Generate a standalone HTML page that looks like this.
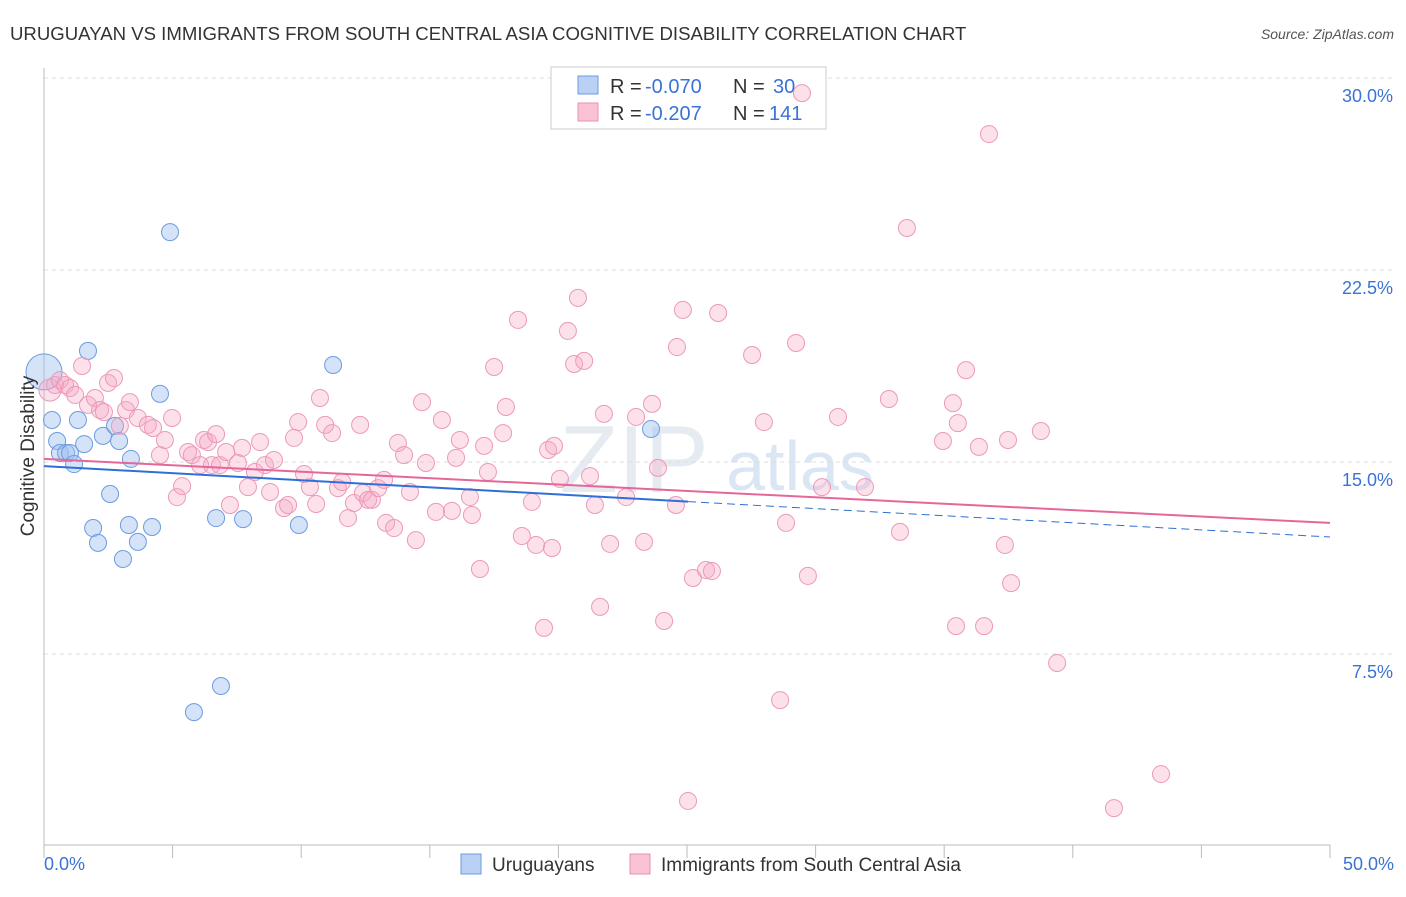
<!DOCTYPE html>
<html><head><meta charset="utf-8"><style>
body{margin:0;background:#fff;font-family:"Liberation Sans",sans-serif}
svg text{font-family:"Liberation Sans",sans-serif}
</style></head><body>
<svg id="c" width="1406" height="892" xmlns="http://www.w3.org/2000/svg">
<text x="10" y="40" font-size="18.6" fill="#333">URUGUAYAN VS IMMIGRANTS FROM SOUTH CENTRAL ASIA COGNITIVE DISABILITY CORRELATION CHART</text>
<text x="1394" y="39" font-size="14" fill="#555" font-style="italic" text-anchor="end">Source: ZipAtlas.com</text>
<text x="634" y="492" font-size="96" fill="#e6ebf2" font-family="Liberation Serif" text-anchor="middle">ZIP</text>
<text x="800" y="490" font-size="70" fill="#dbe6f5" text-anchor="middle">atlas</text>
<g id="grid"></g><g id="axes"></g>
<g>
<rect x="551" y="67" width="275" height="62" fill="#fff" stroke="#ccc"/>
<rect x="578" y="76" width="20" height="18" fill="#b9d1f4" stroke="#6d9be0"/>
<rect x="578" y="103" width="20" height="18" fill="#f9c3d5" stroke="#e890b0"/>
<text x="610" y="93" font-size="20" fill="#333">R =</text><text x="645" y="93" font-size="20" fill="#3b73d4">-0.070</text>
<text x="733" y="93" font-size="20" fill="#333">N =</text><text x="773" y="93" font-size="20" fill="#3b73d4">30</text>
<text x="610" y="120" font-size="20" fill="#333">R =</text><text x="645" y="120" font-size="20" fill="#3b73d4">-0.207</text>
<text x="733" y="120" font-size="20" fill="#333">N =</text><text x="769" y="120" font-size="20" fill="#3b73d4">141</text>
</g>
<g id="pts"></g><g id="trend"></g>
<text transform="translate(34,456) rotate(-90)" font-size="19" fill="#333" text-anchor="middle">Cognitive Disability</text>
<text x="44" y="870" font-size="18" fill="#3b73d4">0.0%</text>
<text x="1394" y="870" font-size="18" fill="#3b73d4" text-anchor="end">50.0%</text>
<g>
<rect x="461" y="854" width="20" height="20" fill="#b9d1f4" stroke="#6d9be0"/>
<text x="492" y="871" font-size="19" fill="#333">Uruguayans</text>
<rect x="630" y="854" width="20" height="20" fill="#f9c3d5" stroke="#e890b0"/>
<text x="661" y="871" font-size="19" fill="#333">Immigrants from South Central Asia</text>
</g>
</svg>
<script>
const yTicks=[7.5,15,22.5,30];
const blueX=[0,0.31,0.51,0.62,0.86,1.01,1.17,1.32,1.56,1.71,2.29,2.57,2.76,2.92,1.91,2.10,3.30,3.65,3.07,3.38,4.20,4.51,4.90,5.83,6.69,6.88,7.74,9.91,11.24,23.60];
const blueY=[18.52,16.64,15.82,15.35,15.35,15.35,14.92,16.64,15.70,19.34,16.02,13.75,16.41,15.82,12.42,11.84,12.54,11.88,11.21,15.12,12.46,17.66,23.98,5.23,12.81,6.25,12.77,12.54,18.79,16.29];
const pinkX=[0.23,0.43,0.62,0.82,1.01,1.21,1.48,1.71,1.98,2.18,2.33,2.49,2.72,2.95,3.19,3.34,3.65,4.04,4.24,4.51,4.70,4.98,5.17,5.37,5.60,5.75,6.07,6.22,6.38,6.53,6.69,6.84,7.08,7.23,7.54,7.70,7.93,8.20,8.40,8.59,8.79,8.94,9.33,9.49,9.72,9.88,10.11,10.34,10.58,10.73,10.93,11.20,11.43,11.59,11.82,12.05,12.29,12.40,12.60,12.75,12.99,13.22,13.30,13.61,13.76,14.00,14.23,14.46,14.70,14.85,15.24,15.47,15.86,16.02,16.17,16.56,16.64,16.95,17.11,17.26,17.50,17.85,17.96,18.43,18.58,18.97,19.13,19.44,19.60,19.75,19.83,20.06,20.37,20.61,20.76,21.00,21.23,21.42,21.62,21.77,22.01,22.63,23.02,23.33,23.64,23.87,24.11,24.57,24.61,24.84,25.04,25.23,25.74,25.97,26.21,27.53,27.99,28.62,28.85,29.24,29.47,29.70,30.25,30.87,31.92,32.85,33.28,33.55,34.95,35.34,35.46,35.53,35.85,36.35,36.55,36.74,37.36,37.48,37.60,38.76,39.39,41.60,43.43];
const pinkY=[17.81,18.01,18.20,18.01,17.89,17.62,18.75,17.23,17.50,17.03,16.95,18.09,18.28,16.41,17.03,17.34,16.72,16.45,16.33,15.27,15.86,16.72,13.63,14.06,15.39,15.27,14.88,15.86,15.78,14.88,16.09,14.88,15.39,13.32,14.96,15.55,14.02,14.61,15.78,14.88,13.83,15.08,13.20,13.32,15.94,16.56,14.53,14.02,13.36,17.50,16.45,16.13,13.98,14.22,12.81,13.40,16.45,13.79,13.52,13.52,13.98,14.30,12.62,12.42,15.74,15.27,13.83,11.95,17.34,14.96,13.05,16.64,13.09,15.16,15.86,13.63,12.93,10.82,15.63,14.61,18.71,16.13,17.15,20.55,12.11,13.44,11.76,8.52,15.47,11.64,15.63,14.34,20.12,18.83,21.41,18.95,14.45,13.32,9.34,16.88,11.80,13.63,16.76,11.88,17.27,14.77,8.79,13.32,19.49,20.94,1.76,10.47,10.78,10.74,20.82,19.18,16.56,5.70,12.62,19.65,29.41,10.55,14.02,16.76,14.02,17.46,12.27,24.14,15.82,17.30,8.59,16.52,18.59,15.59,8.59,27.81,11.76,15.86,10.27,16.21,7.15,1.48,2.81];
const blueTrend=[14.84,12.07];
const pinkTrend=[15.12,12.62];
const NS='http://www.w3.org/2000/svg';
const X=v=>44+v/50*1286;
const Y=v=>846-v/7.5*192;
function mk(t,a,p){const e=document.createElementNS(NS,t);for(const k in a)e.setAttribute(k,a[k]);document.getElementById(p).appendChild(e);return e;}
yTicks.forEach(t=>{
 const l=mk('line',{x1:44,x2:1394,y1:Y(t),y2:Y(t),stroke:'#ddd','stroke-dasharray':'4,4'},'grid');
 
 
 const tx=mk('text',{x:1393,y:Y(t)+24,'font-size':18,fill:'#3b73d4','text-anchor':'end'},'grid');
 tx.textContent=t.toFixed(1)+'%';
 
 
});
mk('line',{x1:44,x2:44,y1:68,y2:845,stroke:'#bbb'},'axes');
mk('line',{x1:44,x2:1330,y1:845,y2:845,stroke:'#bbb'},'axes');
for(let i=0;i<=10;i++){const tk=mk('line',{x1:X(i*5),x2:X(i*5),y1:845,y2:858,stroke:'#bbb'},'axes');
 
 }
blueX.forEach((v,i)=>{
 const c=mk('circle',{cx:X(v),cy:Y(blueY[i]),r:i===0?18:8.5,fill:'rgba(160,192,240,0.45)',stroke:'#6d9be0','stroke-width':1},'pts');
 
 
});
pinkX.forEach((v,i)=>{
 const c=mk('circle',{cx:X(v),cy:Y(pinkY[i]),r:i===0?11:8.5,fill:'rgba(246,170,198,0.35)',stroke:'#ec99b8','stroke-width':1},'pts');
 
 
});
const by=v=>blueTrend[0]+(blueTrend[1]-blueTrend[0])*v/50;
const b1=mk('line',{x1:X(0),y1:Y(by(0)),x2:X(25.04),y2:Y(by(25.04)),stroke:'#2f6fd6','stroke-width':2},'trend');


const b2=mk('line',{x1:X(25.04),y1:Y(by(25.04)),x2:X(50),y2:Y(by(50)),stroke:'#2f6fd6','stroke-width':1,'stroke-dasharray':'8,5'},'trend');


const p1=mk('line',{x1:X(0),y1:Y(pinkTrend[0]),x2:X(50),y2:Y(pinkTrend[1]),stroke:'#e5679a','stroke-width':2},'trend');


</script>
</body></html>
